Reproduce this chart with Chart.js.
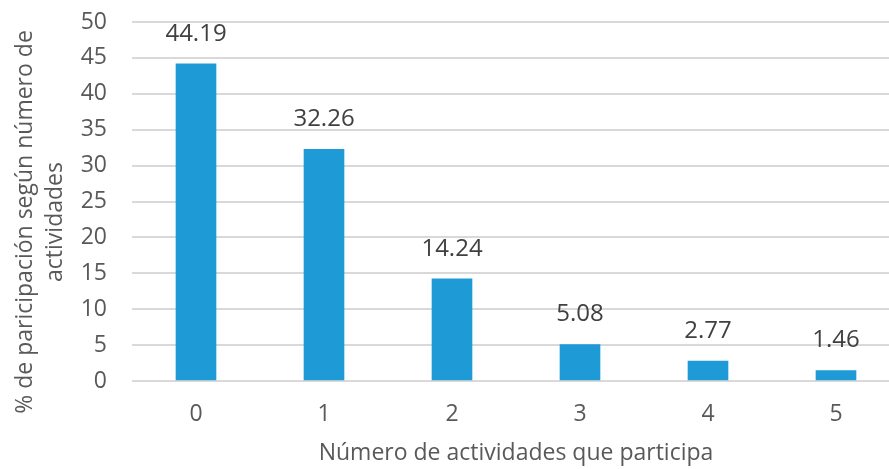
<!DOCTYPE html>
<html>
<head>
<meta charset="utf-8">
<script src="https://cdn.jsdelivr.net/npm/chart.js@4/dist/chart.umd.min.js"></script>
<style>
  html, body { margin: 0; padding: 0; background: #fff; overflow: hidden; }
</style>
</head>
<body>
<canvas id="chart" width="900" height="469"></canvas>
<script>
'use strict';
// data
const categories = ['0', '1', '2', '3', '4', '5'];
const participation = [44.19, 32.26, 14.24, 5.08, 2.77, 1.46];
const yTicks = [0, 5, 10, 15, 20, 25, 30, 35, 40, 45, 50];
const xTitle = 'Número de actividades que participa';
const yTitle = ['% de paricipación según número de', 'actividades'];

const FONT = "'Open Sans', sans-serif";
const canvasElem = document.getElementById('chart');

// value labels over the bars + the two-line y title
const labelsPlugin = {
  id: 'labels',
  afterDatasetsDraw(chart) {
    const ctx = chart.ctx;
    ctx.save();
    ctx.font = '24px ' + FONT;
    ctx.fillStyle = '#404040';
    ctx.textAlign = 'center';
    ctx.textBaseline = 'middle';
    chart.getDatasetMeta(0).data.forEach((bar, i) => {
      ctx.fillText(participation[i].toFixed(2), bar.x, bar.y - 30);
    });
    ctx.restore();
  },
  afterDraw(chart) {
    const ctx = chart.ctx;
    ctx.save();
    ctx.font = '23px ' + FONT;
    ctx.fillStyle = '#595959';
    ctx.textAlign = 'center';
    ctx.textBaseline = 'middle';
    yTitle.forEach((line, i) => {
      ctx.save();
      ctx.translate(25 + i * 30, 222);
      ctx.rotate(-Math.PI / 2);
      ctx.fillText(line, 0, 0);
      ctx.restore();
    });
    ctx.restore();
  }
};

function renderChart() {
  const data = {
    labels: categories,
    datasets: [{
      data: participation,
      backgroundColor: '#1E9AD6',
      borderWidth: 0,
      barThickness: 40,
    }]
  };
  const chartConfig = {
    type: 'bar',
    data: data,
    plugins: [labelsPlugin],
    options: {
      responsive: false,
      animation: false,
      layout: { padding: { top: 0, left: 0, right: 0, bottom: 0 } },
      plugins: { legend: { display: false }, tooltip: { enabled: false } },
      scales: {
        x: {
          grid: { display: false, drawTicks: false },
          border: { display: false },
          ticks: { color: '#595959', font: { family: FONT, size: 23 }, padding: 20 },
          title: {
            display: true, text: xTitle, color: '#595959',
            font: { family: FONT, size: 23 }, padding: { top: 0, bottom: 2 }
          },
          afterFit(scale) { scale.height = 88; }
        },
        y: {
          min: 0, max: 50,
          afterBuildTicks(scale) { scale.ticks = yTicks.map(v => ({ value: v })); },
          grid: { color: '#d9d9d9', lineWidth: 2, drawTicks: false },
          border: { display: false },
          ticks: { color: '#595959', font: { family: FONT, size: 23 }, padding: 25 },
          afterFit(scale) {
            scale.width = 132;
            scale.paddingTop = 0;
          }
        }
      }
    }
  };
  const chart = new Chart(canvasElem, chartConfig);
  // push the plot top up to where the reference has it
  chart.options.layout.padding.top = 22 - (chart.chartArea.top - 0);
  chart.update();
}
renderChart();
</script>
</body>
</html>
